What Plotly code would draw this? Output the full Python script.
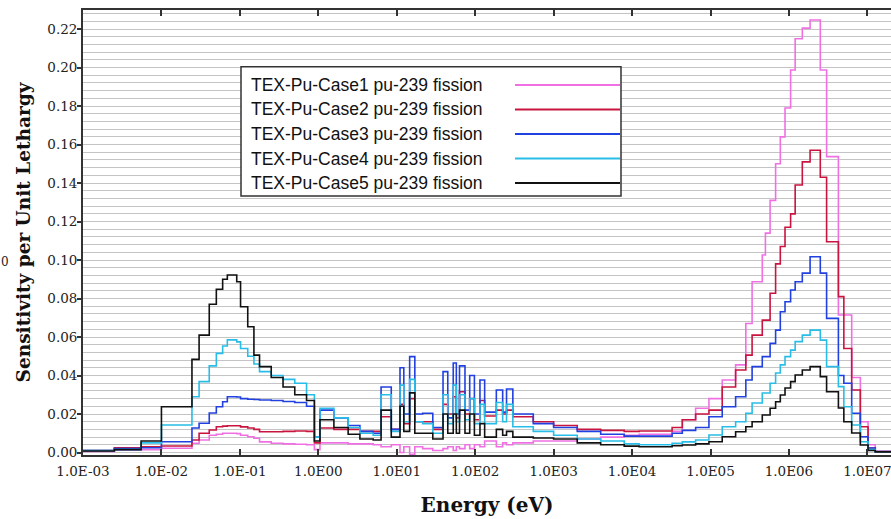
import plotly.graph_objects as go

# Energy group boundaries (eV)
energy_edges = [
    0.001, 0.00251, 0.0055, 0.01, 0.0245, 0.0302, 0.0407, 0.0501, 0.0603, 0.0692,
    0.0912, 0.102, 0.126, 0.151, 0.178, 0.251, 0.355, 0.501, 0.708, 0.891, 1.05,
    1.58, 2.40, 3.39, 5.01, 6.31, 8.51, 11.0, 12.3, 14.6, 17.0, 21.4, 28.8, 38.9,
    44.7, 52.5, 57.5, 63.1, 74.1, 85.1, 97.7, 115, 132, 186, 224, 251, 302, 550, 1000,
    2000, 3980, 7940, 12300,
    32400, 43700, 64600, 95500, 141000, 209000, 282000, 339000, 457000, 501000,
    575000, 676000, 776000, 891000, 1.05e6, 1.20e6, 1.48e6, 1.86e6, 2.51e6, 3.02e6,
    4.27e6, 5.01e6, 6.31e6, 8.13e6, 1.02e7, 1.26e7, 2.0e7,
]

case1 = [
    0.0005, 0.0012, 0.0015, 0.0022, 0.0048, 0.0065, 0.009, 0.0095, 0.010, 0.010,
    0.0098, 0.009, 0.0082, 0.0074, 0.0055, 0.0048, 0.0045, 0.0043, 0.004, 0.0015,
    0.005, 0.005, 0.0045, 0.0045, 0.004, 0.003, 0.004, 0.0, 0.003, -0.001,
    0.003, 0.002, 0.001, 0.002, 0.003, 0.001, 0.003, 0.002, 0.004, 0.002,
    0.004, 0.003, 0.006, 0.003, 0.005, 0.004, 0.005, 0.006,
    0.006, 0.007, 0.008, 0.009,
    0.0095, 0.011, 0.017, 0.023, 0.028, 0.0377, 0.0455, 0.067, 0.0887, 0.1026,
    0.114, 0.131, 0.150, 0.164, 0.179, 0.1987, 0.215, 0.2205, 0.2247, 0.1987,
    0.1537, 0.0714, 0.0714, 0.039, 0.016, 0.004, 0.0005,
]
case2 = [
    0.001, 0.0025, 0.003, 0.0034, 0.0065, 0.010, 0.0117, 0.0134, 0.0137, 0.0139,
    0.0139, 0.0133, 0.0127, 0.012, 0.0108, 0.0108, 0.011, 0.0112, 0.011, 0.005,
    0.0127, 0.012, 0.012, 0.011, 0.011, 0.0186, 0.012, 0.025, 0.015, 0.028,
    0.016, 0.016, 0.012, 0.025, 0.02, 0.029, 0.018, 0.0316, 0.02, 0.028,
    0.017, 0.027, 0.019, 0.022, 0.02, 0.022, 0.0186, 0.016,
    0.014, 0.012, 0.0115, 0.011,
    0.0112, 0.013, 0.017, 0.020, 0.022, 0.034, 0.0429, 0.0506, 0.061, 0.0688,
    0.0688, 0.0827, 0.098, 0.107, 0.117, 0.124, 0.139, 0.151, 0.157, 0.143,
    0.1095, 0.081, 0.054, 0.0325, 0.0134, 0.0023, 0.0005,
]
case3 = [
    0.001, 0.002, 0.0025, 0.0056, 0.0127, 0.0152, 0.0205, 0.0238, 0.0264, 0.029,
    0.0288, 0.028, 0.0277, 0.0275, 0.0273, 0.027, 0.0265, 0.026, 0.024, 0.008,
    0.022, 0.018, 0.014, 0.011, 0.010, 0.034, 0.012, 0.044, 0.020, 0.0498,
    0.020, 0.0204, 0.013, 0.042, 0.018, 0.0465, 0.020, 0.045, 0.022, 0.040,
    0.020, 0.0377, 0.021, 0.0325, 0.021, 0.033, 0.020, 0.015,
    0.013, 0.011, 0.0095, 0.0085,
    0.0085, 0.010, 0.0115, 0.013, 0.0186, 0.0238, 0.029, 0.0377, 0.0446, 0.0498,
    0.0498, 0.0567, 0.0636, 0.0731, 0.0783, 0.0844, 0.0887, 0.0932, 0.1017, 0.0932,
    0.0697, 0.040, 0.036, 0.0204, 0.0082, 0.0023, 0.0005,
]
case4 = [
    0.001, 0.0015, 0.005, 0.0143, 0.029, 0.0368, 0.045, 0.0515, 0.0553, 0.0585,
    0.0575, 0.054, 0.050, 0.046, 0.042, 0.040, 0.038, 0.036, 0.030, 0.008,
    0.023, 0.018, 0.013, 0.010, 0.009, 0.030, 0.011, 0.035, 0.016, 0.038,
    0.016, 0.015, 0.010, 0.030, 0.015, 0.035, 0.016, 0.030, 0.017, 0.028,
    0.015, 0.025, 0.015, 0.026, 0.016, 0.025, 0.0134, 0.011,
    0.009, 0.007, 0.006, 0.0045,
    0.004, 0.0048, 0.0055, 0.0065, 0.0091, 0.0134, 0.016, 0.0204, 0.0257, 0.0309,
    0.0309, 0.036, 0.0413, 0.0455, 0.0498, 0.0532, 0.0576, 0.061, 0.0636, 0.0584,
    0.0446, 0.0342, 0.0238, 0.0143, 0.0056, 0.0015, 0.0004,
]
case5 = [
    0.0008, 0.0015, 0.006, 0.0238, 0.0484, 0.061, 0.077, 0.0848, 0.090, 0.0922,
    0.0887, 0.0757, 0.0653, 0.0506, 0.0446, 0.039, 0.034, 0.030, 0.027, 0.006,
    0.017, 0.013, 0.0095, 0.007, 0.0065, 0.022, 0.008, 0.024, 0.011, 0.031,
    0.010, 0.010, 0.007, 0.020, 0.010, 0.020, 0.010, 0.022, 0.010, 0.020,
    0.009, 0.015, 0.008, 0.012, 0.009, 0.011, 0.008, 0.0075,
    0.007, 0.005, 0.004, 0.0033,
    0.003, 0.0035, 0.0039, 0.0045, 0.0056, 0.0082, 0.0108, 0.0134, 0.016, 0.0195,
    0.0195, 0.023, 0.0264, 0.0299, 0.0335, 0.0368, 0.0403, 0.0429, 0.0446, 0.0394,
    0.0316, 0.0231, 0.016, 0.0101, 0.0039, 0.001, 0.0003,
]

series_names = [
    "TEX-Pu-Case1 pu-239 fission",
    "TEX-Pu-Case2 pu-239 fission",
    "TEX-Pu-Case3 pu-239 fission",
    "TEX-Pu-Case4 pu-239 fission",
    "TEX-Pu-Case5 pu-239 fission",
]
series_values = [case1, case2, case3, case4, case5]
series_colors = ["#f070e4", "#c8143f", "#2040e0", "#28bde6", "#111111"]

x_tickvals = [1e-3, 1e-2, 1e-1, 1e0, 1e1, 1e2, 1e3, 1e4, 1e5, 1e6, 1e7]
x_ticktext = ["1.0E-03", "1.0E-02", "1.0E-01", "1.0E00", "1.0E01", "1.0E02",
              "1.0E03", "1.0E04", "1.0E05", "1.0E06", "1.0E07"]

fig = go.Figure()
for name, vals, col in zip(series_names, series_values, series_colors):
    fig.add_trace(go.Scatter(
        x=energy_edges, y=vals + [vals[-1]], mode="lines", line_shape="hv",
        line=dict(color=col, width=1.6), name=name, showlegend=False,
        hoverinfo="skip",
    ))

axis_col = "#333333"
tick_font = dict(family="DejaVu Serif", size=13.5, color="#222222")
y_range = [-0.0013, 0.2299]

fig.update_layout(
    width=891, height=519,
    margin=dict(l=83, r=0, t=10, b=64, autoexpand=False),
    paper_bgcolor="white", plot_bgcolor="white",
    xaxis=dict(
        type="log", range=[-3, 7.301], tickvals=x_tickvals, ticktext=x_ticktext,
        ticks="inside", ticklen=6, tickwidth=1.5, tickcolor=axis_col,
        showline=True, linecolor=axis_col, linewidth=1.8, mirror="ticks",
        showgrid=False, zeroline=False, tickfont=tick_font, automargin=False,
        ticklabelstandoff=3, ticklabeloverflow="allow",
        title=dict(text="Energy (eV)", standoff=20,
                   font=dict(family="DejaVu Serif", size=20, color="#111111", weight="bold")),
    ),
    yaxis=dict(
        range=y_range, tick0=0, dtick=0.02, tickformat=".2f",
        ticks="outside", ticklen=4, tickwidth=1.5, tickcolor=axis_col,
        showline=True, linecolor=axis_col, linewidth=1.8, mirror=False,
        showgrid=True, gridcolor="#c4c4c4", gridwidth=1, zeroline=False,
        minor=dict(dtick=0.004, showgrid=True, gridcolor="#c4c4c4", gridwidth=1),
        tickfont=tick_font, ticklabelstandoff=-3, automargin=False,
        title=dict(text="Sensitivity per Unit Lethargy", standoff=12,
                   font=dict(family="DejaVu Serif", size=18.5, color="#111111", weight="bold")),
    ),
    yaxis2=dict(
        overlaying="y", anchor="x", side="left", range=y_range, tick0=0, dtick=0.02,
        ticks="inside", ticklen=6, tickwidth=1.5, tickcolor=axis_col,
        showline=False, mirror="ticks", showgrid=False, zeroline=False,
        showticklabels=False, automargin=False,
    ),
)


def px_x(x):
    return (x - 83) / 808.0


def px_y(y):
    return (455 - y) / 445.0


# Legend box (text left, line sample right, as in the original)
fig.add_shape(type="rect", xref="paper", yref="paper",
              x0=px_x(241), x1=px_x(621), y0=px_y(196), y1=px_y(66.7),
              line=dict(color="#333333", width=1.5), fillcolor="white", layer="above")
row_px = [85, 109.5, 134, 158.5, 183]
for name, col, ry in zip(series_names, series_colors, row_px):
    fig.add_annotation(xref="paper", yref="paper", x=px_x(249), y=px_y(ry), text=name,
                       showarrow=False, xanchor="left", yanchor="middle",
                       font=dict(family="Liberation Sans", size=17.5, color="#111111"))
    fig.add_shape(type="line", xref="paper", yref="paper",
                  x0=px_x(515), x1=px_x(620), y0=px_y(ry), y1=px_y(ry),
                  line=dict(color=col, width=2), layer="above")

# fragment of neighbouring figure at the far left edge
fig.add_annotation(xref="paper", yref="paper", x=px_x(5), y=px_y(262), text="0",
                   showarrow=False, xanchor="center", yanchor="middle",
                   font=dict(family="DejaVu Serif", size=12, color="#222222"))

fig.write_html(
    "out.html",
    config={"displayModeBar": False},
    post_script="document.body.style.margin='0';document.body.style.overflow='hidden';",
)
